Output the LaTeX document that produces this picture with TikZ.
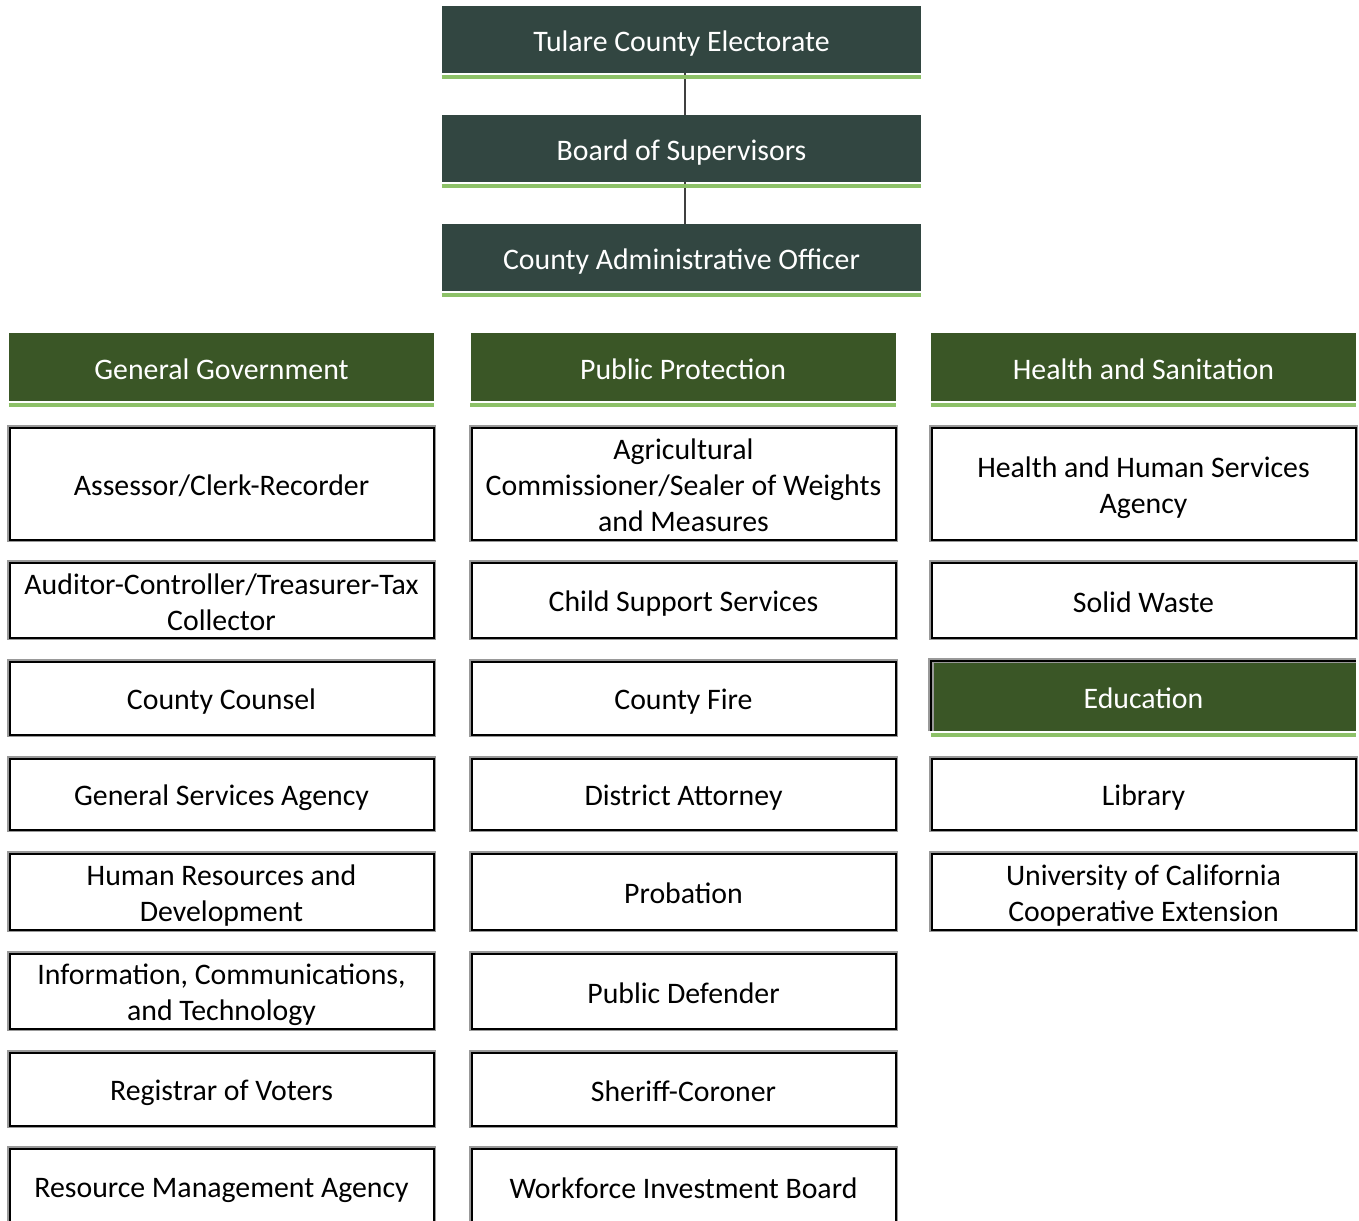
\documentclass[tikz,border=0pt]{standalone}
\usepackage{fontspec}
\setmainfont{Carlito}
\definecolor{slate}{RGB}{50,70,65}
\definecolor{leaf}{RGB}{58,86,38}
\definecolor{lime}{RGB}{141,193,104}
\newcommand\linestrut{\rule[-1.8pt]{0pt}{16pt}}
\tikzset{
  every node/.style={font=\fontsize{14.9}{18}\selectfont, align=center, inner sep=0pt,
    execute at begin node=\linestrut, execute at end node=\linestrut},
  topbox/.style={fill=slate, text=white, minimum width=239.5pt, minimum height=33.5pt},
  grouphdr/.style={fill=leaf, text=white, minimum width=212.5pt, minimum height=34pt},
  deptbox/.style={fill=white, draw=black, line width=1pt,
    preaction={draw=black!40, line width=2.8pt}, minimum width=212pt},
  accent/.style={lime, line width=2pt},
  tie/.style={black!75, line width=1pt},
}
\begin{document}
\begin{tikzpicture}[x=0.5pt, y=-0.5pt]
  \useasboundingbox (0,0) rectangle (1359,1220);

  % chain at the top
  \node[topbox] (elect) at (681.5,39.5) {Tulare County Electorate};
  \node[topbox] (board) at (681.5,148.5) {Board of Supervisors};
  \node[topbox] (cao) at (681.5,257.5) {County Administrative Officer};
  \draw[tie] ([xshift=1.75pt]elect.south) -- ([xshift=1.75pt]board.north);
  \draw[tie] ([xshift=1.75pt]board.south) -- ([xshift=1.75pt]cao.north);

  % group headers
  \node[grouphdr] (gengov) at (221.5,367) {General Government};
  \node[grouphdr] (pubprot) at (683,367) {Public Protection};
  \node[grouphdr] (health) at (1143.5,367) {Health and Sanitation};

  % General Government
  \node[deptbox, minimum height=56pt] (assessor) at (221.5,483.5) {Assessor/Clerk-Recorder};
  \node[deptbox, minimum height=37.5pt] (auditor) at (221.5,600) {\linestrut Auditor-Controller/Treasurer-Tax\\Collector\linestrut};
  \node[deptbox, minimum height=36.5pt] (counsel) at (221.5,698) {County Counsel};
  \node[deptbox, minimum height=35.5pt] (gsa) at (221.5,794) {General Services Agency};
  \node[deptbox, minimum height=38pt] (hrd) at (221.5,891.5) {\linestrut Human Resources and\\Development\linestrut};
  \node[deptbox, minimum height=37.5pt] (ict) at (221.5,991) {\linestrut Information, Communications,\\and Technology\linestrut};
  \node[deptbox, minimum height=36.5pt] (voters) at (221.5,1089) {Registrar of Voters};
  \node[deptbox, minimum height=37.5pt] (rma) at (221.5,1186) {Resource Management Agency};

  % Public Protection
  \node[deptbox, minimum height=56pt] (agcomm) at (683.5,483.5) {\linestrut Agricultural\\Commissioner/Sealer of Weights\\and Measures\linestrut};
  \node[deptbox, minimum height=37.5pt] (childsup) at (683.5,600) {Child Support Services};
  \node[deptbox, minimum height=36.5pt] (fire) at (683.5,698) {County Fire};
  \node[deptbox, minimum height=35.5pt] (da) at (683.5,794) {District Attorney};
  \node[deptbox, minimum height=38pt] (probation) at (683.5,891.5) {Probation};
  \node[deptbox, minimum height=37.5pt] (defender) at (683.5,991) {Public Defender};
  \node[deptbox, minimum height=36.5pt] (sheriff) at (683.5,1089) {Sheriff-Coroner};
  \node[deptbox, minimum height=37.5pt] (wib) at (683.5,1186) {Workforce Investment Board};

  % Health and Sanitation, Education
  \node[deptbox, minimum height=56pt] (hhsa) at (1143.5,483.5) {\linestrut Health and Human Services\\Agency\linestrut};
  \node[deptbox, minimum height=37.5pt] (waste) at (1143.5,600) {Solid Waste};
  \node[grouphdr, minimum width=212pt, minimum height=35pt] (edu) at (1143.5,696) {Education};
  \draw[black!40, line width=2.8pt] (edu.south west) |- (edu.north east);
  \draw[black, line width=1pt] (edu.south west) |- (edu.north east);
  \node[deptbox, minimum height=35.5pt] (library) at (1143.5,794) {Library};
  \node[deptbox, minimum height=38pt] (ucce) at (1143.5,891.5) {\linestrut University of California\\Cooperative Extension\linestrut};

  % green rules under the dark boxes
  \foreach \n in {elect,board,cao,gengov,pubprot,health,edu}
    \draw[accent] ([yshift=-2pt]\n.south west) -- ([yshift=-2pt]\n.south east);
\end{tikzpicture}
\end{document}
